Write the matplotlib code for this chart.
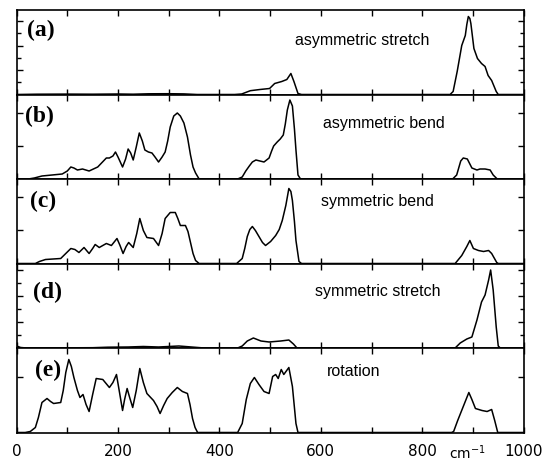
import matplotlib
matplotlib.use('Agg')
import matplotlib.pyplot as plt
from matplotlib.ticker import MultipleLocator, FixedLocator

# wavenumber (cm^-1) / intensity (arb. units)
a_x = [0, 40, 100, 150, 200, 230, 260, 300, 330, 356,
       430, 444, 461, 480, 499, 509, 523, 533, 541, 547, 555, 562,
       855, 861, 869, 878, 885, 888, 891, 894, 896, 902, 909, 917, 924, 930, 937, 946, 950, 1000]
a_y = [0, 0.3, 0.4, 0.3, 0.5, 0.3, 0.7, 0.8, 0.6, 0,
       0, 0.5, 3.8, 5, 6, 11, 13, 15, 21, 13, 1, 0,
       0, 3, 23, 49, 59, 70, 78, 76, 71, 46, 36, 31, 28, 19, 14, 3, 0, 0]

b_x = [0, 23, 35, 50, 70, 90, 100, 107, 113, 120, 130, 143, 160, 177, 183, 190, 195, 200,
       209, 215, 220, 225, 230, 236, 242, 248, 253, 260, 267, 273, 280, 287, 293, 298, 303,
       310, 317, 323, 330, 337, 343, 348, 353, 360,
       430, 436, 445, 452, 459, 465, 472, 480, 488, 498, 503, 507, 514, 520, 526, 530, 534,
       539, 544, 548, 551, 555, 560,
       860, 868, 872, 876, 881, 889, 894, 898, 908, 914, 924, 934, 940, 948, 1000]
b_y = [0, 0, 1, 3, 4, 5, 8, 12, 11, 9, 10, 8, 12, 21, 21, 23, 27, 22,
       12, 20, 30, 26, 19, 32, 46, 38, 29, 27, 26, 22, 17, 22, 27, 38, 52,
       63, 66, 63, 56, 42, 24, 12, 6, 0,
       0, 0, 2, 8, 13, 17, 19, 18, 17, 21, 28, 33, 37, 40, 44, 55, 69,
       79, 73, 50, 29, 4, 0,
       0, 4, 11, 18, 21, 20, 15, 11, 9, 10, 10, 9, 4, 0, 0]

c_x = [0, 37, 45, 57, 87, 97, 107, 115, 123, 133, 143, 150, 155, 163, 177, 187, 198, 204,
       210, 216, 221, 230, 237, 243, 250, 257, 270, 280, 287, 293, 303, 313, 318, 323, 333,
       338, 343, 348, 353, 360,
       430, 434, 445, 450, 455, 460, 465, 471, 478, 485, 491, 501, 511, 518, 524, 531, 537,
       541, 544, 548, 551, 557, 562,
       862, 865, 878, 888, 894, 901, 911, 921, 931, 937, 947, 950, 1000]
c_y = [0, 0, 2, 4, 5, 10, 15, 14, 11, 16, 10, 15, 19, 16, 20, 18, 25, 18,
       10, 17, 21, 16, 30, 45, 33, 26, 25, 18, 30, 45, 51, 51, 45, 38, 38,
       32, 21, 10, 3, 0,
       0, 0, 5, 15, 27, 34, 37, 33, 27, 21, 18, 22, 28, 34, 43, 58, 75,
       72, 63, 42, 23, 2, 0,
       0, 0, 8, 17, 23, 15, 13, 12, 13, 10, 1, 0, 0]

d_x = [0, 8, 20, 150, 180, 220, 250, 280, 320, 350, 370,
       430, 436, 445, 455, 467, 482, 498, 521, 537, 546, 553,
       862, 865, 875, 888, 898, 908, 917, 924, 931, 935, 940, 946, 950, 954, 1000]
d_y = [2, 0.5, 0, 0.3, 0.8, 1, 1.5, 1, 2, 0.8, 0,
       0, 0, 2, 7, 10, 7, 6, 7, 8, 4, 0,
       0, 0, 5, 9, 11, 28, 46, 53, 68, 78, 58, 21, 2, 0, 0]

e_x = [0, 17, 27, 37, 43, 50, 60, 67, 73, 87, 92, 97, 103, 108, 113, 120, 125, 131, 137,
       143, 150, 157, 170, 183, 190, 197, 203, 209, 213, 218, 223, 229, 236, 243, 250, 257,
       270, 277, 283, 290, 297, 307, 317, 327, 337, 342, 347, 352, 357,
       430, 436, 445, 453, 461, 469, 478, 488, 498, 505, 511, 516, 522, 527, 537, 544, 551, 555,
       858, 862, 870, 881, 892, 898, 905, 918, 928, 937, 943, 949, 1000]
e_y = [0, 0, 1, 5, 15, 30, 34, 31, 29, 30, 42, 60, 73, 66, 55, 42, 35, 38, 28,
       21, 38, 54, 53, 45, 50, 58, 40, 22, 33, 44, 35, 25, 42, 64, 50, 39,
       32, 26, 19, 27, 34, 40, 45, 41, 39, 28, 14, 5, 0,
       0, 0, 9, 33, 49, 55, 48, 41, 39, 56, 58, 54, 63, 58, 65, 46, 9, 0,
       0, 1, 12, 26, 40, 33, 24, 22, 21, 23, 12, 0, 0]

panels = [
    ('(a)', 'asymmetric stretch', a_x, a_y),
    ('(b)', 'asymmetric bend', b_x, b_y),
    ('(c)', 'symmetric bend', c_x, c_y),
    ('(d)', 'symmetric stretch', d_x, d_y),
    ('(e)', 'rotation', e_x, e_y),
]

# y tick positions per panel (major, minor)
yticks = [([24.5, 49, 73.5], [12.25, 36.75, 61.25]),
          ([33, 66], []),
          ([33.5, 67], []),
          ([26, 52, 78], [13, 39, 65]),
          ([56], [])]
# label positions in axes fraction: (tag x, tag y, name x, name y)
label_pos = [(0.021, 0.76, 0.550, 0.58),
             (0.016, 0.74, 0.604, 0.60),
             (0.026, 0.73, 0.601, 0.68),
             (0.032, 0.66, 0.588, 0.62),
             (0.036, 0.73, 0.611, 0.665)]

fig = plt.figure(figsize=(5.42, 4.62), dpi=100)
left, width = 16.6 / 542, 507 / 542
top_px, h_px = 10, 84.5

for i, (tag, name, xs, ys) in enumerate(panels):
    bottom = 1 - (top_px + (i + 1) * h_px) / 462
    ax = fig.add_axes([left, bottom, width, h_px / 462])
    ax.plot(xs, ys, color='black', lw=1.1)
    ax.set_xlim(0, 1000)
    ax.set_ylim(0, 84.5)
    ax.xaxis.set_major_locator(MultipleLocator(200))
    ax.xaxis.set_minor_locator(FixedLocator([100, 300, 500, 700, 900]))
    ax.yaxis.set_major_locator(FixedLocator(yticks[i][0]))
    ax.yaxis.set_minor_locator(FixedLocator(yticks[i][1]))
    ax.tick_params(which='both', direction='in', top=True, right=True, width=1.0)
    ax.tick_params(which='major', length=4)
    ax.tick_params(which='minor', length=3)
    ax.tick_params(axis='x', which='minor', length=4)
    ax.tick_params(axis='y', labelleft=False)
    ax.tick_params(axis='x', labelsize=11, pad=8)
    if i < 4:
        ax.tick_params(axis='x', labelbottom=False)
    for s in ax.spines.values():
        s.set_linewidth(1.2)
    tx, ty, nx, ny = label_pos[i]
    ax.text(tx, ty, tag, transform=ax.transAxes, fontsize=17, fontweight='bold',
            family='Liberation Serif', ha='left', va='center')
    ax.text(nx, ny, name, transform=ax.transAxes, fontsize=11.5,
            family='Liberation Sans', ha='left', va='baseline')

fig.text(467 / 542, 0.0, 'cm$^{-1}$', fontsize=10, ha='center', va='bottom')

fig.savefig('out.png', dpi=100)
